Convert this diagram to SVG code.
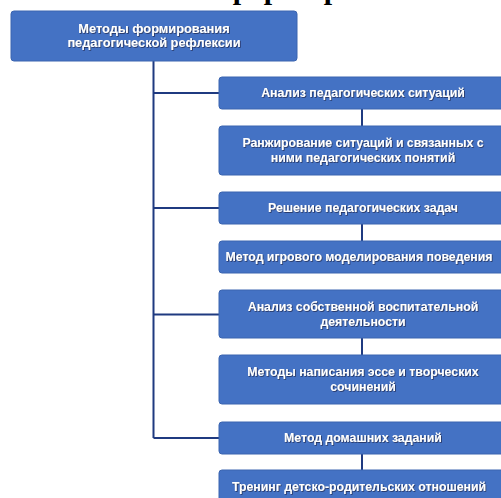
<svg xmlns="http://www.w3.org/2000/svg" width="501" height="498" viewBox="0 0 501 498">
<style>
.box{fill:#4472C4;stroke:#3A64B0;stroke-width:1}
.t{font-family:"Liberation Sans",Arial,sans-serif;font-weight:bold;fill:#ffffff;text-anchor:middle;font-size:12.3px;filter:url(#sh)}
.tt{font-size:12.8px}
.ln{fill:none;stroke:#1F3A80;stroke-width:2}
.frag{font-family:"Liberation Serif","Times New Roman",serif;font-weight:bold;font-size:30px;fill:#000;text-anchor:middle}
</style>
<defs>
<filter id="sh" x="-10%" y="-40%" width="120%" height="180%">
<feDropShadow dx="0.8" dy="0.8" stdDeviation="0.7" flood-color="#1a2548" flood-opacity="0.85"/>
</filter>
</defs>
<rect width="501" height="498" fill="#ffffff"/>
<text class="frag" x="241 272 332" y="-1">ррр</text>
<g id="connectors">
<path class="ln" d="M153.5 61 V438 M153.5 93 H219 M153.5 208 H219 M153.5 314.5 H219 M153.5 438 H219"/>
<path class="ln" d="M362 109 V126 M362 224 V241 M362 338 V355 M362 454 V470"/>
</g>
<g id="root">
<rect class="box" x="11" y="11" width="286" height="50" rx="3"/>
<text class="t tt" x="154" y="33">Методы формирования</text>
<text class="t tt" x="154" y="47">педагогической рефлексии</text>
</g>
<g id="n1">
<rect class="box" x="219" y="77" width="288" height="32" rx="3"/>
<text class="t" x="363" y="97">Анализ педагогических ситуаций</text>
</g>
<g id="n2">
<rect class="box" x="219" y="126" width="288" height="49" rx="3"/>
<text class="t" x="363" y="147.3">Ранжирование ситуаций и связанных с</text>
<text class="t" x="363" y="161.7">ними педагогических понятий</text>
</g>
<g id="n3">
<rect class="box" x="219" y="192" width="288" height="32" rx="3"/>
<text class="t" x="363" y="212">Решение педагогических задач</text>
</g>
<g id="n4">
<rect class="box" x="219" y="241" width="288" height="32" rx="3"/>
<text class="t" x="359" y="261">Метод игрового моделирования поведения</text>
</g>
<g id="n5">
<rect class="box" x="219" y="290" width="288" height="48" rx="3"/>
<text class="t" x="363" y="311">Анализ собственной воспитательной</text>
<text class="t" x="363" y="325.5">деятельности</text>
</g>
<g id="n6">
<rect class="box" x="219" y="355" width="288" height="49" rx="3"/>
<text class="t" x="363" y="376">Методы написания эссе и творческих</text>
<text class="t" x="363" y="390.5">сочинений</text>
</g>
<g id="n7">
<rect class="box" x="219" y="422" width="288" height="32" rx="3"/>
<text class="t" x="363" y="442">Метод домашних заданий</text>
</g>
<g id="n8">
<rect class="box" x="219" y="470" width="288" height="34" rx="3"/>
<text class="t" x="359" y="491">Тренинг детско-родительских отношений</text>
</g>
</svg>
